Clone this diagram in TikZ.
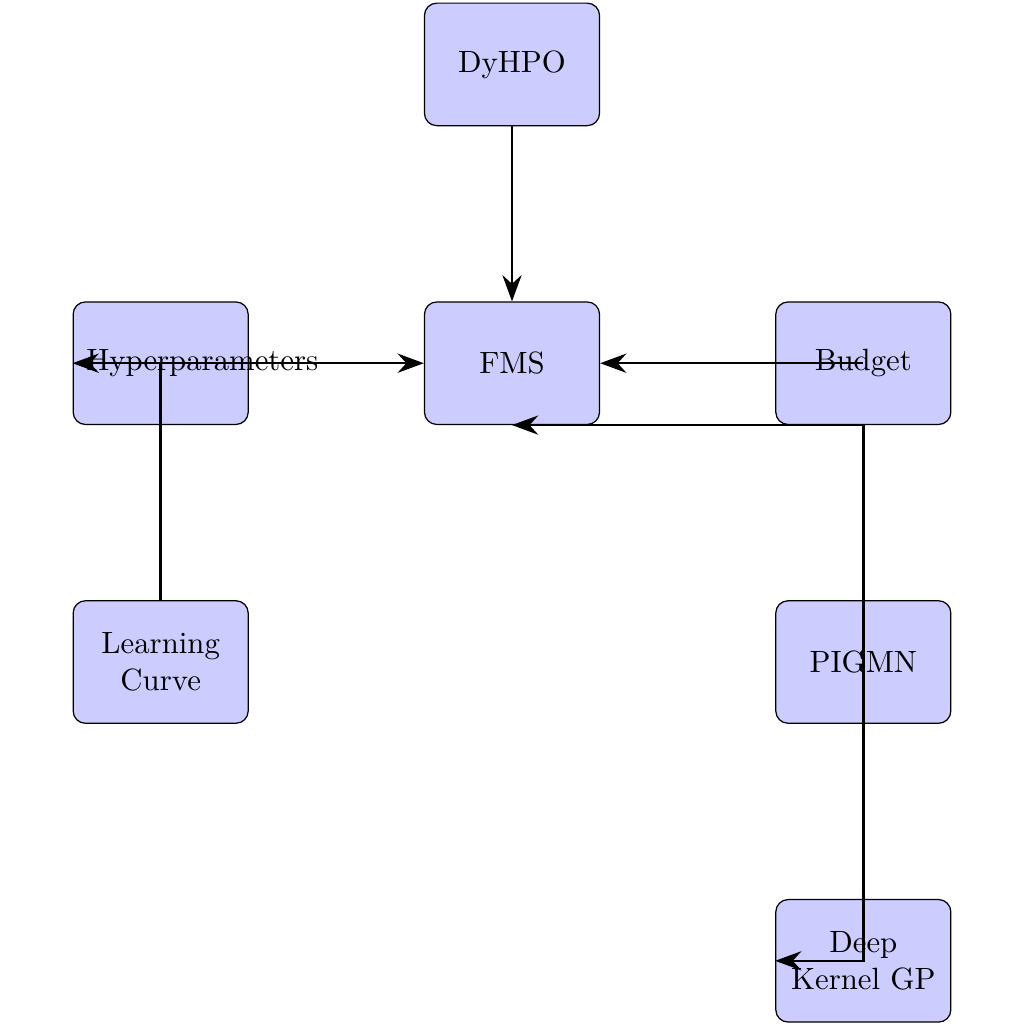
\documentclass[tikz,border=0pt]{standalone}
\usetikzlibrary{positioning,arrows.meta}
\begin{document}
\begin{tikzpicture}[node distance=2cm,
            block/.style={draw, fill=blue!20, rounded corners, minimum width=2cm, minimum height=1.4cm, text width=1.7cm, align=center},
            link/.style={thick, -{Stealth[length=3mm,width=2.2mm,inset=1mm]}}]
            \useasboundingbox (-5.85, -7.55) rectangle (5.85, 4.15);
            % main blocks
            \node[block] (fms) at (0, 0) {FMS};
            \node[block, above=of fms] (dyhpo) {DyHPO};
            \node[block, left=of fms] (hyper) {Hyperparameters};
            \node[block, right=of fms] (budget) {Budget};
            \node[block, below=of hyper] (curve) {Learning Curve};
            \node[block, below=of budget] (pigmn) {PIGMN};
            \node[block, below=of pigmn] (dkgp) {Deep Kernel GP};
            % connectors
            \draw[link] (dyhpo) -- (fms);
            \draw[link] (curve) |- (fms);
            \draw[link] (curve) |- (hyper.west);
            \draw[link] (budget.center) -- (fms);
            \draw[link] (budget.south) -- (fms.south);
            \draw[link] (budget.south) |- (dkgp.west);
        \end{tikzpicture}
\end{document}
